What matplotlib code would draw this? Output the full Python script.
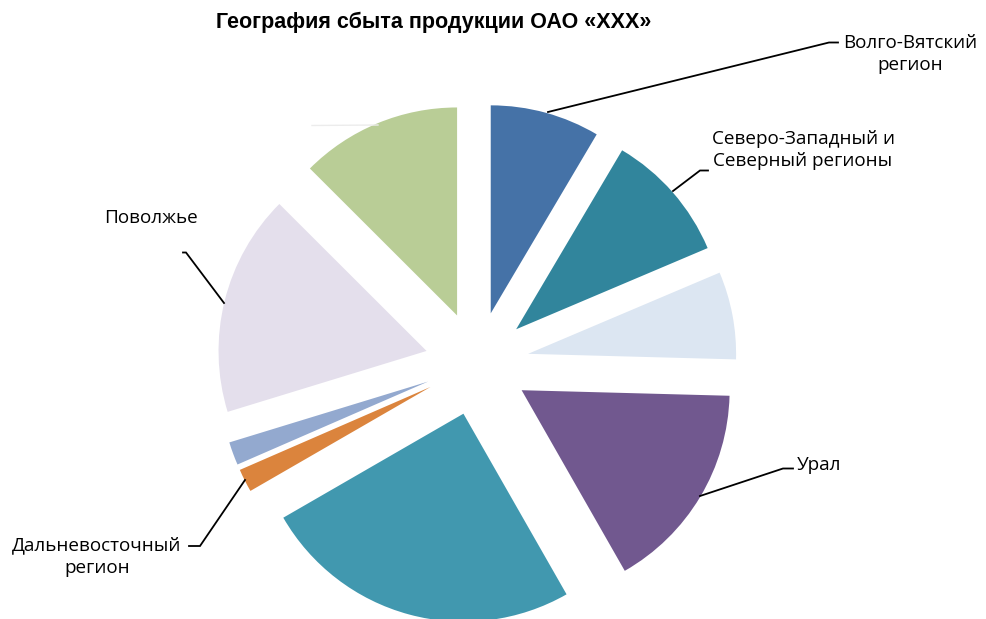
import matplotlib
matplotlib.use("Agg")
import matplotlib.pyplot as plt

# ---- data (shares, %) clockwise from 12 o'clock ----
regions = ["Волго-Вятский регион", "Северо-Западный и Северный регионы", "Центр",
           "Урал", "Сибирь", "Дальневосточный регион", "Юг", "Поволжье", "Москва"]
shares = [8.5, 10.1, 6.8, 16.3, 24.9, 1.8, 1.8, 17.2, 12.5]
colors = ["#4572A7", "#31859C", "#DCE6F2", "#71588F", "#4198AF",
          "#DB843D", "#93A9CF", "#E4DFEC", "#B9CD96"]
title = "География сбыта продукции ОАО «ХХХ»"

W, H = 986, 619
fig = plt.figure(figsize=(W / 100, H / 100), dpi=100)
ax = fig.add_axes([0, 0, 1, 1])
ax.set_xlim(0, W)
ax.set_ylim(0, H)
ax.set_aspect("equal")
ax.axis("off")

def Y(y):
    return H - y

cx, cy = 477, Y(363.5)
R = 208
ax.pie(shares, colors=colors, startangle=90, counterclock=False,
       radius=R, center=(cx, cy), explode=[52] * len(shares),
       wedgeprops=dict(linewidth=0))
ax.set_xlim(0, W)
ax.set_ylim(0, H)

fig.text(434 / W, 1 - 22 / H, title, ha="center", va="center",
         fontsize=15.5, fontweight="bold", family="Liberation Sans")

lab_font = dict(family="Open Sans", fontsize=13.6, color="black")
lw = 1.3
# leader lines (pixel coords, y down)
lines = [
    [(548, 112), (829, 42.5), (838, 42.5)],
    [(673, 191), (700, 170.5), (708, 170.5)],
    [(700, 496), (783, 468.5), (793, 468.5)],
    [(245, 480), (200, 546), (189, 546)],
    [(224, 303), (186, 252.5), (183, 252.5)],
]
for pts in lines:
    ax.plot([p[0] for p in pts], [Y(p[1]) for p in pts], color="black", lw=lw,
            solid_joinstyle="miter")
ax.plot([312, 378], [Y(125.5), Y(125)], color="#ececec", lw=1)

ax.text(910, Y(54), "Волго-Вятский\nрегион", ha="center", va="center",
        linespacing=1.35, **lab_font)
ax.text(803, Y(150), "Северо-Западный и\nСеверный регионы", ha="center",
        va="center", linespacing=1.35, **lab_font)
ax.text(797, Y(465), "Урал", ha="left", va="center", **lab_font)
ax.text(151, Y(218), "Поволжье", ha="center", va="center", **lab_font)
ax.text(97, Y(557), "Дальневосточный\nрегион", ha="center", va="center",
        linespacing=1.35, **lab_font)

fig.savefig("out.png", dpi=100)
